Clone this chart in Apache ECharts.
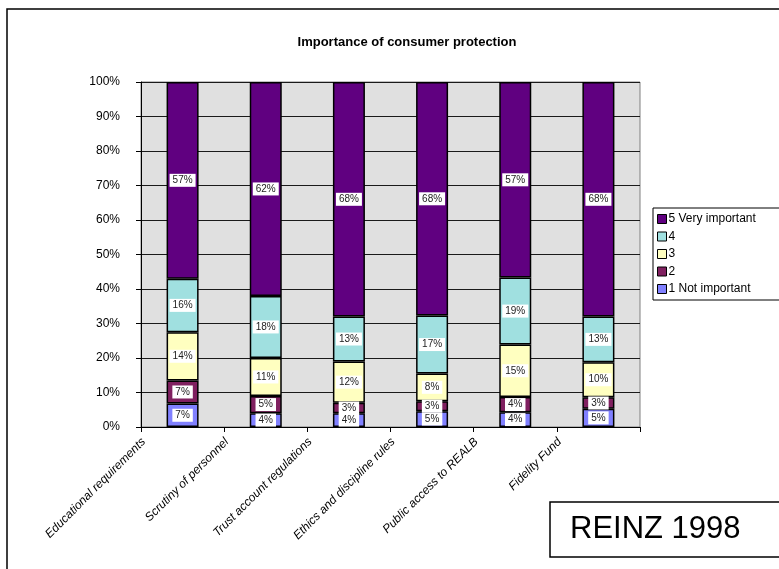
<!DOCTYPE html>
<html>
<head>
<meta charset="utf-8">
<script src="https://cdn.jsdelivr.net/npm/echarts@6/dist/echarts.min.js"></script>
<style>
  html, body { margin: 0; padding: 0; background: #fff; }
  #main { width: 779px; height: 569px; }
</style>
</head>
<body>
<div id="main"></div>
<script>
// categories along the x axis
const categories = [
  "Educational requirements",
  "Scrutiny of personnel",
  "Trust account regulations",
  "Ethics and discipline rules",
  "Public access to REALB",
  "Fidelity Fund",
];
// share of answers per rating, in percent
const notImportant = [6.8, 4.0, 4.0, 4.6, 4.3, 5.3];
const rating2 = [6.7, 5.0, 3.0, 2.9, 4.4, 3.3];
const rating3 = [14.0, 11.0, 12.0, 8.0, 15.2, 10.2];
const rating4 = [15.5, 18.0, 13.0, 16.8, 19.4, 13.2];
const veryImportant = [57.0, 62.0, 68.0, 67.7, 56.7, 68.0];
const yTicks = [0, 10, 20, 30, 40, 50, 60, 70, 80, 90, 100];

const seriesDefs = [
  { name: "1 Not important", data: notImportant, color: "#8080ff" },
  { name: "2", data: rating2, color: "#802060" },
  { name: "3", data: rating3, color: "#ffffc0" },
  { name: "4", data: rating4, color: "#a0e0e0" },
  { name: "5 Very important", data: veryImportant, color: "#600080" },
];

var chart = echarts.init(document.getElementById("main"));
chart.setOption({
  animation: false,
  textStyle: { fontFamily: "Liberation Sans, Arial, sans-serif" },
  title: {
    text: "Importance of consumer protection",
    left: 402,
    top: 31,
    textAlign: "center",
    textStyle: { fontSize: 13, fontWeight: "bold", color: "#000" },
  },
  grid: {
    left: 141,
    right: 139,
    top: 82,
    bottom: 142,
    show: true,
    backgroundColor: "#e0e0e0",
    borderColor: "#808080",
    borderWidth: 1,
  },
  legend: {
    orient: "vertical",
    left: 653,
    top: 208,
    padding: [5, 30, 5, 4],
    itemGap: 5.5,
    itemWidth: 9,
    itemHeight: 9,
    borderColor: "#000",
    borderWidth: 1,
    backgroundColor: "#fff",
    icon: "rect",
    itemStyle: { borderColor: "#000", borderWidth: 1 },
    textStyle: { fontSize: 12, color: "#000", padding: [0, 0, 0, -3] },
    data: seriesDefs.map((s) => s.name).reverse(),
  },
  xAxis: {
    type: "category",
    data: categories,
    axisLine: { lineStyle: { color: "#000" } },
    axisTick: { show: true, length: 5, lineStyle: { color: "#000" } },
    axisLabel: {
      rotate: 45,
      interval: 0,
      fontSize: 12,
      fontStyle: "italic",
      color: "#000",
      margin: 8,
      verticalAlign: "bottom",
      padding: [0, 31, 18, 0],
    },
  },
  yAxis: {
    type: "value",
    min: yTicks[0],
    max: yTicks[yTicks.length - 1],
    interval: 10,
    axisLine: { show: true, lineStyle: { color: "#000" } },
    axisTick: { show: true, length: 5, lineStyle: { color: "#000" } },
    axisLabel: {
      fontSize: 12,
      color: "#000",
      margin: 21,
      formatter: "{value}%",
    },
    splitLine: { show: true, lineStyle: { color: "#1a1a1a", width: 1 } },
  },
  series: seriesDefs.map((s) => ({
    name: s.name,
    type: "bar",
    stack: "total",
    barWidth: 32,
    data: s.data,
    itemStyle: { color: s.color, borderColor: "#000", borderWidth: 1.5 },
    label: {
      show: true,
      position: "inside",
      fontSize: 10,
      color: "#222",
      backgroundColor: "#fff",
      padding: [2, 3, 1, 3],
      formatter: (p) => Math.round(p.value) + "%",
    },
  })),
  graphic: [
    {
      type: "rect",
      shape: { x: 7, y: 9, width: 800, height: 600 },
      style: { fill: null, stroke: "#000", lineWidth: 1.5 },
      silent: true,
    },
    {
      type: "rect",
      shape: { x: 550, y: 502, width: 260, height: 55 },
      style: { fill: "#fff", stroke: "#000", lineWidth: 1.5 },
      silent: true,
    },
    {
      type: "text",
      x: 570,
      y: 529,
      style: {
        text: "REINZ 1998",
        fontSize: 31,
        fontFamily: "Liberation Sans, Arial, sans-serif",
        fill: "#000",
        verticalAlign: "middle",
      },
      silent: true,
    },
  ],
});
</script>
</body>
</html>
